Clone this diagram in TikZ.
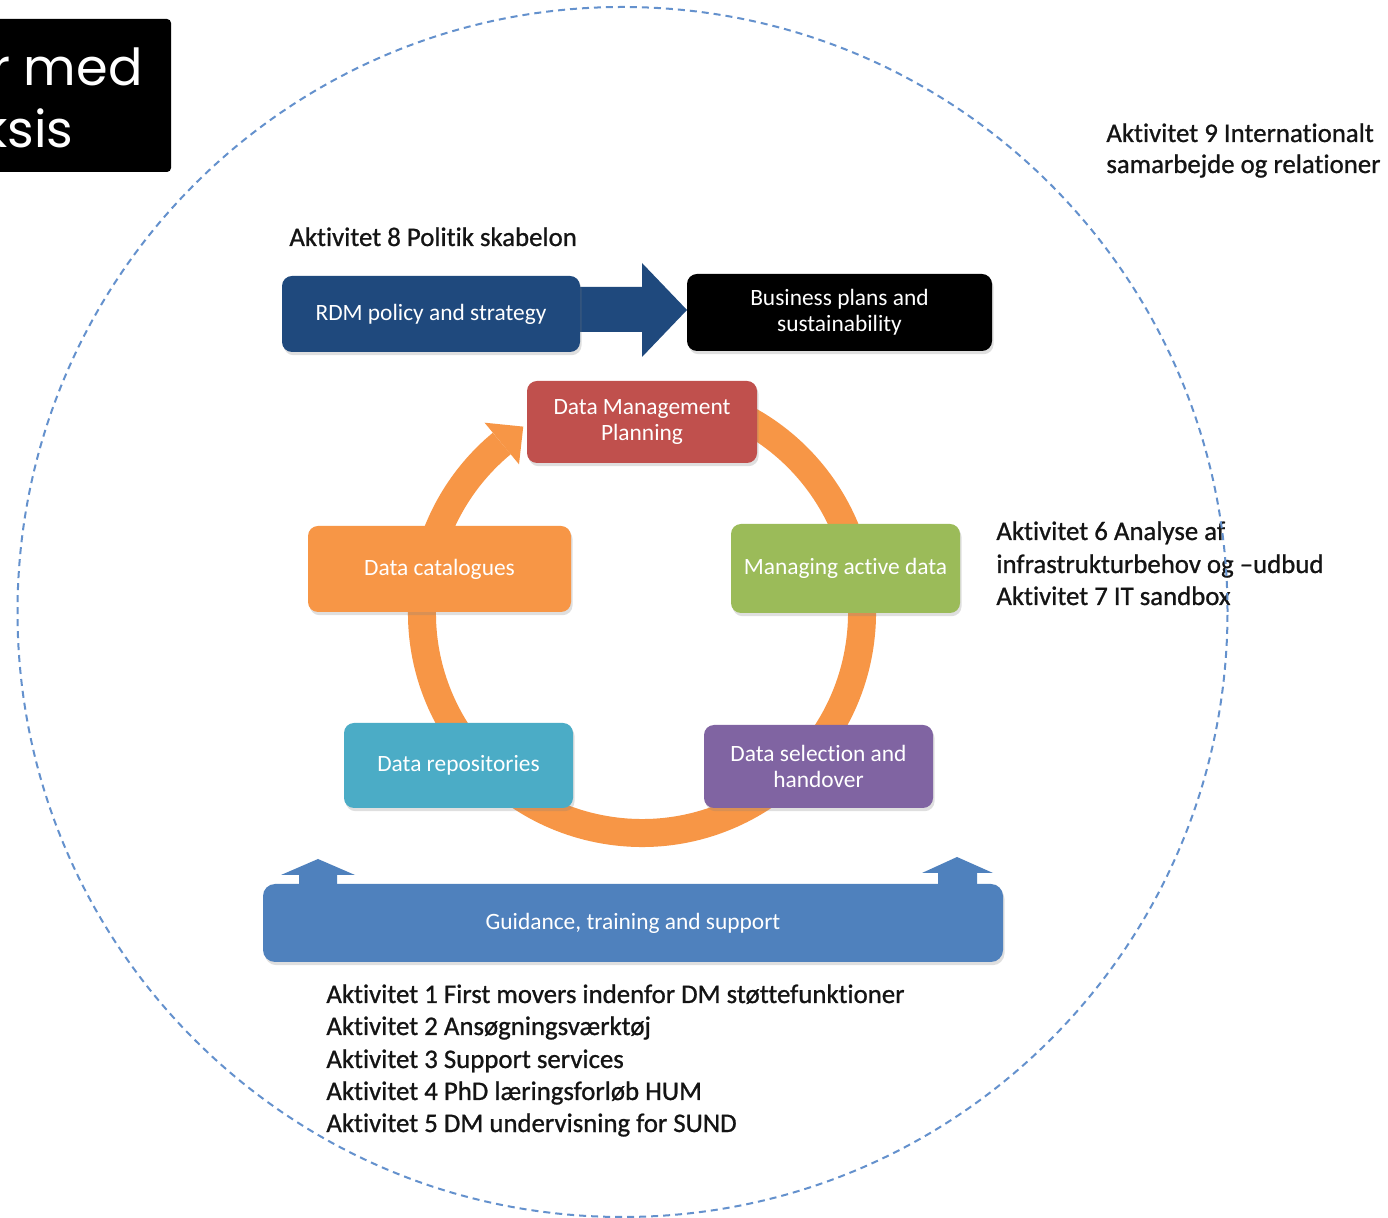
\documentclass[tikz,border=0pt]{standalone}
\usepackage{fontspec}
\setmainfont{Carlito}[Ligatures=NoCommon]
\newfontfamily\actfont{Carlito}[Ligatures=NoCommon,FakeBold=0.9]
\newfontfamily\headfont{Poppins}
\usetikzlibrary{shadows}
\definecolor{dkblue}{RGB}{31,73,125}
\definecolor{midblue}{RGB}{79,129,189}
\definecolor{dmpred}{RGB}{192,80,77}
\definecolor{actgreen}{RGB}{155,187,89}
\definecolor{catorange}{RGB}{247,150,70}
\definecolor{repteal}{RGB}{75,172,198}
\definecolor{selpurple}{RGB}{128,100,162}
\definecolor{dashblue}{RGB}{100,145,205}
\definecolor{txtdark}{RGB}{20,20,20}
\tikzset{
  boxnode/.style={rounded corners=5pt, text=white, align=center, inner sep=2pt,
    font=\fontsize{11.7}{13}\selectfont,
    drop shadow={shadow xshift=0.8pt, shadow yshift=-1.6pt, opacity=.25}},
  acttext/.style={anchor=base west, inner sep=0pt, text=txtdark,
    font=\actfont\fontsize{13.4}{16}\selectfont},
  ringline/.style={draw=catorange, line width=14pt},
}
\begin{document}
\begin{tikzpicture}[x=0.5pt,y=0.5pt]
\useasboundingbox (0,0) rectangle (1388,-1218);
\clip (0,0) rectangle (1388,-1218);
\fill[white] (0,0) rectangle (1388,-1218);

% top-left black box
\fill[black, rounded corners=2pt] (-20,-19) rectangle (171,-172);
\node[anchor=base east, inner sep=0pt, text=white, font=\headfont\fontsize{25.5}{30}\selectfont] (tl1) at (143,-86) {r med};
\node[anchor=base east, inner sep=0pt, text=white, font=\headfont\fontsize{25.5}{30}\selectfont] (tl2) at (74,-148) {ksis};

% orange ring
\draw[ringline] ([shift={(642,-613)}]80:220) arc[start angle=80, end angle=-230.4, radius=220];
\fill[catorange] ([shift={(642,-613)}]129.6:247) -- ([shift={(642,-613)}]122.5:221) -- ([shift={(642,-613)}]129.6:193) -- cycle;

% big arrow
\fill[dkblue] (570,-287) -- (642,-287) -- (642,-263) -- (687,-310) -- (642,-357) -- (642,-332) -- (570,-332) -- cycle;

% small up arrows
\fill[midblue] (299,-890) -- (299,-875) -- (281,-875) -- (318,-859) -- (355,-875) -- (337,-875) -- (337,-890) -- cycle;
\fill[midblue] (938,-890) -- (938,-873) -- (922,-873) -- (957,-857) -- (993,-873) -- (977,-873) -- (977,-890) -- cycle;

% boxes
\node[boxnode, fill=dkblue, minimum width=149pt, minimum height=38pt] (rdm) at (431,-314) {RDM policy and strategy};
\node[boxnode, fill=black, minimum width=152.5pt, minimum height=38.5pt] (bus) at (839.5,-312.5) {Business plans and\\sustainability};
\node[boxnode, fill=dmpred, minimum width=115pt, minimum height=41pt] (dmp) at (642,-422) {Data Management\\Planning};
\node[boxnode, fill=actgreen, minimum width=114.5pt, minimum height=44.5pt] (mad) at (845.5,-568.5) {Managing active data};
\node[boxnode, fill=catorange, minimum width=131.5pt, minimum height=43pt] (cat) at (439.5,-569) {Data catalogues};
\node[boxnode, fill=repteal, minimum width=114.5pt, minimum height=42.5pt] (rep) at (458.5,-765.5) {Data repositories};
\node[boxnode, fill=selpurple, minimum width=114.5pt, minimum height=41.5pt] (sel) at (818.5,-766.5) {Data selection and\\handover};
\node[boxnode, fill=midblue, rounded corners=6pt, minimum width=370pt, minimum height=39pt] (gts) at (633,-923) {Guidance, training and support};

% activity texts
\node[acttext] (a8) at (289,-246) {Aktivitet 8 Politik skabelon};
\node[acttext] (a9a) at (1106,-142) {Aktivitet 9 Internationalt};
\node[acttext] (a9b) at (1106,-173) {samarbejde og relationer};
\node[acttext] (a6a) at (996,-540) {Aktivitet 6 Analyse af};
\node[acttext] (a6b) at (996,-573) {infrastrukturbehov og –udbud};
\node[acttext] (a7) at (996,-605) {Aktivitet 7 IT sandbox};
\node[acttext] (a1) at (326,-1003) {Aktivitet 1 First movers indenfor DM støttefunktioner};
\node[acttext] (a2) at (326,-1035) {Aktivitet 2 Ansøgningsværktøj};
\node[acttext] (a3) at (326,-1068) {Aktivitet 3 Support services};
\node[acttext] (a4) at (326,-1100) {Aktivitet 4 PhD læringsforløb HUM};
\node[acttext] (a5) at (326,-1132) {Aktivitet 5 DM undervisning for SUND};

% dashed circle
\draw[dashblue, line width=1pt, dash pattern=on 3.5pt off 2.5pt] (622.5,-612) circle[radius=605];
\end{tikzpicture}
\end{document}
